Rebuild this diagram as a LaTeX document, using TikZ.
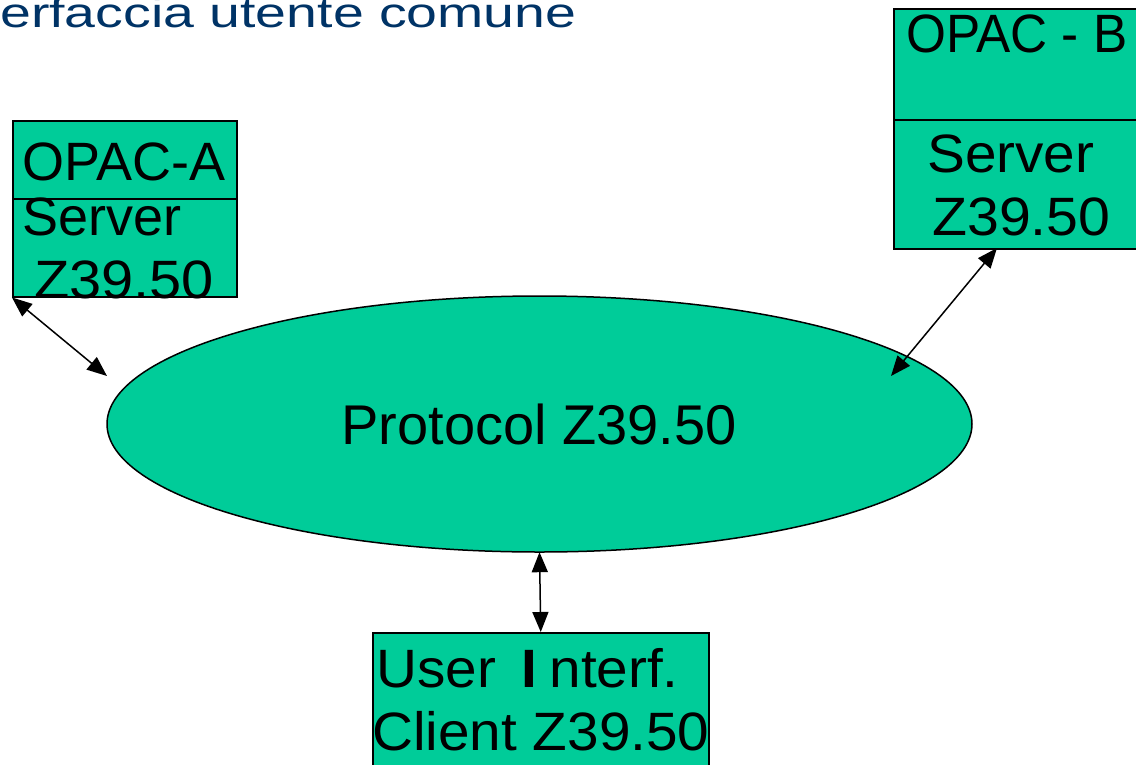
\documentclass[tikz,border=0pt]{standalone}
\usepackage{fontspec}
\setmainfont{Liberation Sans}
\usetikzlibrary{arrows.meta}
\definecolor{boxgreen}{RGB}{0,204,153}
\definecolor{titleblue}{RGB}{0,51,102}
\begin{document}
\begin{tikzpicture}[x=1pt,y=-1pt,
  box/.style={draw=black, fill=boxgreen, line width=1.5pt, inner sep=0pt, anchor=north west},
  lbl/.style={inner sep=0pt, anchor=base west, font=\fontsize{54}{60}\selectfont},
  link/.style={line width=1.5pt, {Triangle[length=20pt,width=16pt]}-{Triangle[length=20pt,width=16pt]}}]
\clip (0,0) rectangle (1136,764);
% title
\node[inner sep=0pt, anchor=base west, text=titleblue, font=\fontsize{42}{48}\selectfont, xscale=1.32] (title) at (0,27) {erfaccia utente comune};
% OPAC-A
\node[box, minimum width=224pt, minimum height=176pt] (oa) at (12,120) {};
\draw[line width=1.5pt] ([yshift=-79pt]oa.north west) -- ([yshift=-79pt]oa.north east);
\node[lbl] (oat) at (22,180) {OPAC-A};
\node[lbl] (oas) at (22,235) {Server};
\node[lbl, xscale=1.07] (oaz) at (34,298) {Z39.50};
% OPAC-B
\node[box, minimum width=260pt, minimum height=240pt] (ob) at (893,8) {};
\draw[line width=1.5pt] ([yshift=-112pt]ob.north west) -- ([yshift=-112pt]ob.north east);
\node[lbl, xscale=0.95] (obt) at (906,52) {OPAC - B};
\node[lbl, xscale=1.05] (obs) at (927,172) {Server};
\node[lbl, xscale=1.06] (obz) at (932,235) {Z39.50};
% protocol ellipse
\draw[draw=black, fill=boxgreen, line width=1.5pt] (539.5,424) ellipse [x radius=432.5, y radius=128];
\node[inner sep=0pt, minimum width=865pt, minimum height=256pt] (proto) at (539.5,424) {};
\node[inner sep=0pt, anchor=base, font=\fontsize{56}{60}\selectfont] (protot) at (539,444) {Protocol Z39.50};
% user interface
\node[box, minimum width=336pt, minimum height=150pt] (ui) at (372,632) {};
\node[lbl, xscale=1.05] (uit) at (376,687) {User\kern9pt\ \textbf{I}\kern12pt nterf.};
\node[lbl, xscale=1.05] (uic) at (372,750) {Client Z39.50};
% connectors
\coordinate (pa) at (107,376);
\coordinate (pb) at (891,376);
\coordinate (obp) at (997,248);
\draw[link] (oa.south west) -- (pa);
\draw[link] (obp) -- (pb);
\draw[link] (proto.south) -- (ui.north);
\end{tikzpicture}
\end{document}
